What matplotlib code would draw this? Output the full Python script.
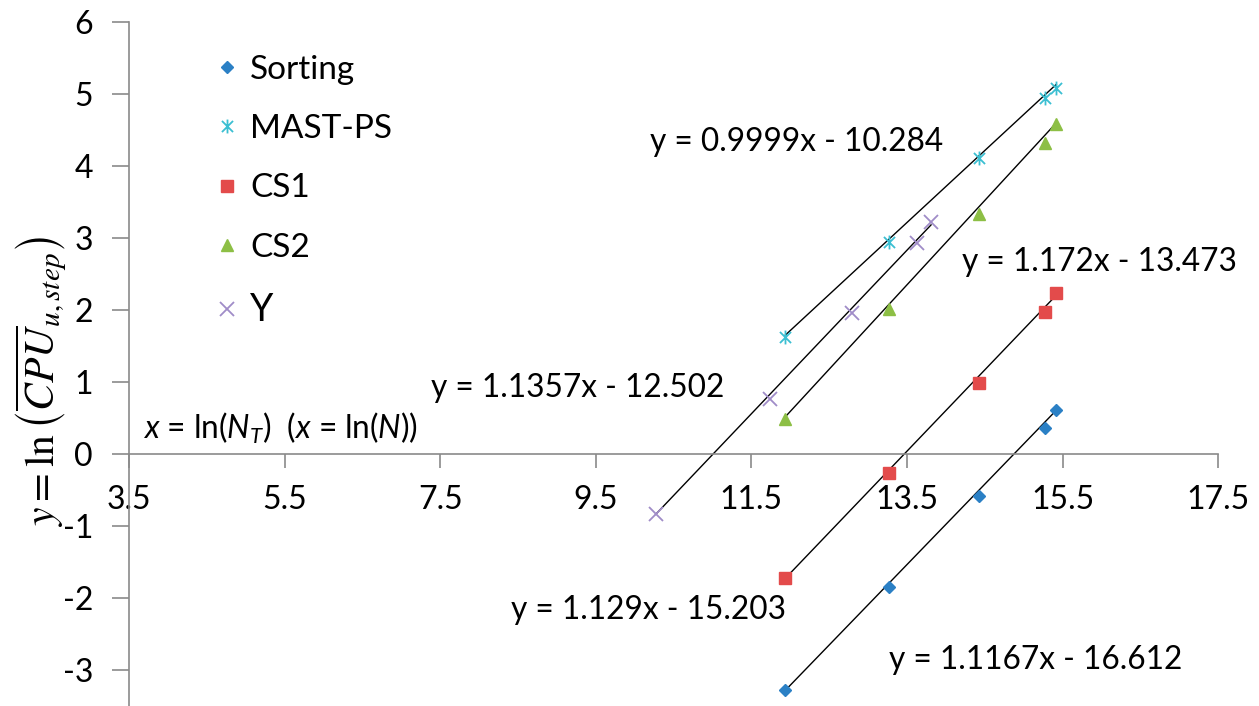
import numpy as np
import matplotlib
matplotlib.use("Agg")
import matplotlib.pyplot as plt
from matplotlib.path import Path

plt.rcParams["font.family"] = ["Lato", "DejaVu Sans"]
plt.rcParams["axes.unicode_minus"] = False
plt.rcParams["mathtext.fontset"] = "custom"
plt.rcParams["mathtext.rm"] = "Lato"
plt.rcParams["mathtext.it"] = "Lato:italic"
plt.rcParams["mathtext.bf"] = "Lato:bold"

# data (x = ln(N_T), y = ln(mean CPU per step))
x_common = [11.93, 13.27, 14.43, 15.27, 15.42]
sorting_y = [-3.28, -1.85, -0.58, 0.36, 0.61]
mast_ps_y = [1.62, 2.95, 4.11, 4.94, 5.09]
cs1_y = [-1.72, -0.27, 0.99, 1.97, 2.23]
cs2_y = [0.48, 2.02, 3.34, 4.32, 4.59]
y_x = [10.27, 11.74, 12.79, 13.63, 13.81]
y_y = [-0.83, 0.76, 1.96, 2.93, 3.22]

# trendline coefficients as printed on the chart
fits = {
    "Sorting": (1.1167, -16.612),
    "MAST-PS": (0.9999, -10.284),
    "CS1": (1.129, -15.203),
    "CS2": (1.172, -13.473),
    "Y": (1.1357, -12.502),
}
eq_pos = {
    "MAST-PS": (10.20, 4.33),
    "CS2": (14.21, 2.67),
    "Y": (7.38, 0.92),
    "CS1": (8.41, -2.17),
    "Sorting": (13.27, -2.86),
}

x_ticks = [3.5, 5.5, 7.5, 9.5, 11.5, 13.5, 15.5, 17.5]
y_ticks = [-3, -2, -1, 0, 1, 2, 3, 4, 5, 6]

star = Path([(-1, -1), (1, 1), (-1, 1), (1, -1), (0, -1.25), (0, 1.25)],
            [Path.MOVETO, Path.LINETO, Path.MOVETO, Path.LINETO, Path.MOVETO, Path.LINETO])

series = [
    ("Sorting", x_common, sorting_y, dict(marker="D", color="#2b80c5", ms=6.5, mec="#2b80c5")),
    ("MAST-PS", x_common, mast_ps_y, dict(marker=star, color="#3bbfd2", ms=10, mew=1.3, mfc="none")),
    ("CS1", x_common, cs1_y, dict(marker="s", color="#e34b4b", ms=9, mec="#e34b4b")),
    ("CS2", x_common, cs2_y, dict(marker="^", color="#8dbf45", ms=9, mec="#8dbf45")),
    ("Y", y_x, y_y, dict(marker="x", color="#a08cc8", ms=10, mew=1.3)),
]

fig = plt.figure(figsize=(12.59, 7.06), dpi=100)
ax = fig.add_axes([0.1025, 0.0, 0.865, 0.9688])

for name, xs, ys, style in series:
    xs = np.array(xs)
    m, b = fits[name]
    xl = np.array([xs.min(), xs.max()])
    ax.plot(xl, m * xl + b, color="black", lw=1.0, zorder=2)
    ax.plot(xs, ys, ls="none", label=name, zorder=3, **style)
    sign = "-" if b < 0 else "+"
    ax.text(*eq_pos[name], f"y = {m:g}x {sign} {abs(b):.3f}", fontsize=22.8,
            ha="left", va="center", zorder=4)

ax.text(3.68, 0.36, r"$x$ = ln($N_T$)  ($x$ = ln($N$))", fontsize=22.8,
        ha="left", va="center")

ax.set_xlim(3.5, 17.5)
ax.set_ylim(-3.5, 6)
ax.set_xticks(x_ticks)
ax.set_xticklabels([f"{v:g}" for v in x_ticks])
ax.set_yticks(y_ticks)
ax.set_yticklabels([str(v) for v in y_ticks])

ax.spines["top"].set_visible(False)
ax.spines["right"].set_visible(False)
ax.spines["bottom"].set_position(("data", 0))
for s in ("left", "bottom"):
    ax.spines[s].set_color("#8a8a8a")
    ax.spines[s].set_linewidth(1.2)
ax.tick_params(axis="both", colors="#8a8a8a", labelcolor="black", labelsize=23,
               length=10, width=1.2, direction="out")
ax.tick_params(axis="x", pad=12)
ax.tick_params(axis="y", length=12, pad=14)

ylab = ax.set_ylabel(r"$y = \ln\left(\overline{CPU}_{u,step}\right)$", fontsize=30)
ylab.set_math_fontfamily("stix")
ax.yaxis.set_label_coords(-0.056, 0.474)

leg = ax.legend(loc="upper left", bbox_to_anchor=(0.062, 0.972), frameon=False,
                fontsize=24, labelspacing=0.88, handletextpad=0.2, handlelength=1.0,
                borderaxespad=0)
leg.get_texts()[-1].set_fontsize(27)

fig.savefig("out.png", dpi=100)
